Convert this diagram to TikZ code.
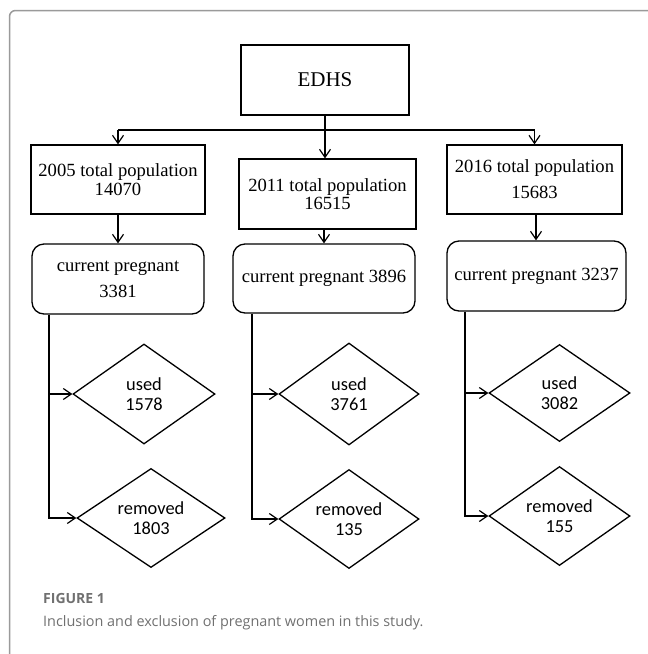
\documentclass[tikz,border=0pt]{standalone}
\usepackage{fontspec}
\setmainfont{Liberation Serif}
\newfontfamily\diafont{Carlito}
\newfontfamily\capfont{Open Sans}
\usetikzlibrary{shapes.geometric,arrows.meta}
\definecolor{framegray}{HTML}{9A9A9A}
\definecolor{capgray}{HTML}{707070}
\tikzset{
  line/.style={draw=black, line width=1.3pt},
  arr/.style={line, -{Straight Barb[length=8pt,width=11pt,line width=1.2pt]}},
  sqbox/.style={line, rectangle, inner sep=0pt, align=center, font=\fontsize{18.6}{19}\selectfont},
  rbox/.style={line, rectangle, rounded corners=12pt, inner sep=0pt, align=center, font=\fontsize{18.6}{26}\selectfont},
  dia/.style={line, diamond, inner sep=0pt, align=center, font=\diafont\fontsize{18.4}{19.5}\selectfont},
}
\begin{document}
\begin{tikzpicture}[x=1pt,y=-1pt]
\useasboundingbox (0,0) rectangle (648,654);
\begin{scope}
  \clip (0,0) rectangle (648,654);
  \draw[framegray, line width=1.5pt, rounded corners=6pt] (9.5,10.5) rectangle (700,720);
\end{scope}

\node[sqbox, minimum width=168pt, minimum height=70pt, font=\fontsize{21}{24}\selectfont] (edhs) at (325,80) {EDHS};
\node[sqbox, minimum width=174pt, minimum height=69pt] (b05) at (118,179.5) {2005 total population\\14070};
\node[sqbox, minimum width=177pt, minimum height=70pt, font=\fontsize{18.6}{18}\selectfont] (b11) at (327.5,194) {2011 total population\\16515};
\node[sqbox, minimum width=175pt, minimum height=69pt, font=\fontsize{18.6}{26}\selectfont] (b16) at (534.5,179.5) {2016 total population\\15683};

\node[rbox, minimum width=172pt, minimum height=70pt] (cp05) at (118,279) {current pregnant\\3381};
\node[rbox, minimum width=182pt, minimum height=69pt] (cp11) at (324,278.5) {current pregnant 3896};
\node[rbox, minimum width=179pt, minimum height=70pt] (cp16) at (536.5,276) {current pregnant 3237};

\node[dia, minimum width=142pt, minimum height=100pt] (u05) at (144,394) {used\\1578};
\node[dia, minimum width=148pt, minimum height=90pt] (r05) at (151,518) {removed\\1803};
\node[dia, minimum width=140pt, minimum height=102pt] (u11) at (349,394) {used\\3761};
\node[dia, minimum width=140pt, minimum height=88pt] (r11) at (349,519) {removed\\135};
\node[dia, minimum width=141pt, minimum height=97pt] (u16) at (559.5,393) {used\\3082};
\node[dia, minimum width=141pt, minimum height=89pt] (r16) at (559.5,516) {removed\\155};

\coordinate (hb) at (325,130);
\coordinate (x05) at (49,0);
\coordinate (x11) at (252,0);
\coordinate (x16) at (465,0);
\coordinate (a11) at (324,0);
\coordinate (a16) at (536,0);

\draw[line] (edhs.south) -- (hb);
\draw[line] (hb -| b05) -- (hb -| b16);
\draw[arr] (hb -| b05) -- (b05.north);
\draw[arr] (hb) -- (hb |- b11.north);
\draw[arr] (hb -| b16) -- (b16.north);

\draw[arr] (b05.south) -- (b05.south |- cp05.north);
\draw[arr] (a11 |- b11.south) -- (a11 |- cp11.north);
\draw[arr] (a16 |- b16.south) -- (a16 |- cp16.north);

\draw[arr] (x05 |- cp05.south) |- (r05.west);
\draw[arr] (x05 |- u05.west) -- (u05.west);
\draw[arr] (x11 |- cp11.south) |- (r11.west);
\draw[arr] (x11 |- u11.west) -- (u11.west);
\draw[arr] (x16 |- cp16.south) |- (r16.west);
\draw[arr] (x16 |- u16.west) -- (u16.west);

\node[anchor=base west, inner sep=0pt, text=capgray, font=\capfont\bfseries\fontsize{14}{16}\selectfont] (fig) at (43,603) {FIGURE 1};
\node[anchor=base west, inner sep=0pt, text=capgray, font=\capfont\fontsize{14.4}{17}\selectfont] (cap) at (43,626) {Inclusion and exclusion of pregnant women in this study.};
\end{tikzpicture}
\end{document}
